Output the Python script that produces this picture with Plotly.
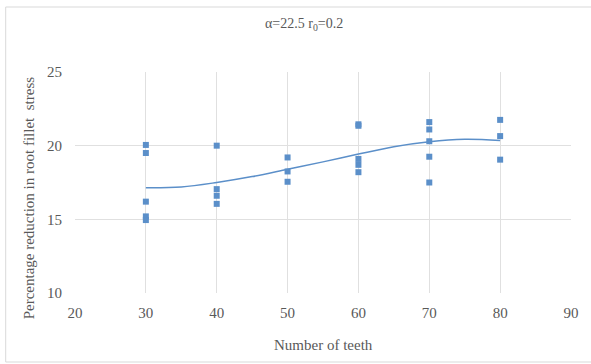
import plotly.graph_objects as go

# Data
teeth_30 = [20.05, 19.5, 16.2, 15.2, 14.95]
teeth_40 = [20.0, 17.05, 16.6, 16.05]
teeth_50 = [19.2, 18.25, 17.55]
teeth_60 = [21.45, 21.35, 19.1, 18.7, 18.2]
teeth_70 = [21.6, 21.1, 20.3, 19.25, 17.5]
teeth_80 = [21.75, 20.65, 19.05]

groups = {30: teeth_30, 40: teeth_40, 50: teeth_50, 60: teeth_60, 70: teeth_70, 80: teeth_80}

# Polynomial trendline as drawn in the reference (read values)
trend_x = [30, 35, 40, 45, 50, 55, 60, 65, 70, 75, 80]
trend_y = [17.15, 17.2, 17.5, 17.9, 18.4, 18.9, 19.43, 19.93, 20.27, 20.43, 20.35]

x_ticks = [20, 30, 40, 50, 60, 70, 80, 90]
y_ticks = [10, 15, 20, 25]

pts_x = []
pts_y = []
for k, vals in groups.items():
    pts_x += [k] * len(vals)
    pts_y += vals

blue = "#5B8FC9"
grey = "#595959"
font = "Liberation Serif"

fig = go.Figure()
fig.add_trace(go.Scatter(x=pts_x, y=pts_y, mode="markers",
                         marker=dict(symbol="square", size=6, color=blue),
                         showlegend=False, hoverinfo="x+y"))
fig.add_trace(go.Scatter(x=trend_x, y=trend_y, mode="lines",
                         line=dict(color=blue, width=1.5, shape="spline", smoothing=1.0),
                         showlegend=False, hoverinfo="skip"))

fig.update_layout(
    width=591, height=364,
    margin=dict(l=75, r=15, t=72, b=71),
    paper_bgcolor="white", plot_bgcolor="white",
    font=dict(family=font, color=grey, size=15),
    xaxis=dict(range=[20, 90], tickvals=x_ticks, showgrid=True, gridcolor="#E0E0E0",
               gridwidth=1, zeroline=False, showline=False, ticks="",
               ticklabelstandoff=9,
               tickfont=dict(size=15, color=grey, family=font), fixedrange=True),
    yaxis=dict(range=[10, 25], tickvals=y_ticks, showgrid=True, gridcolor="#E0E0E0",
               gridwidth=1, zeroline=False, showline=False, ticks="",
               ticklabelstandoff=12,
               tickfont=dict(size=15, color=grey, family=font), fixedrange=True),
    annotations=[
        dict(text="α=22.5 r<sub>0</sub>=0.2", xref="paper", yref="paper",
             x=0.462, y=1.215, xanchor="center", yanchor="middle", showarrow=False,
             font=dict(size=14, color=grey, family=font)),
        dict(text="Percentage reduction in root fillet  stress", xref="paper", yref="paper",
             x=-0.092, y=0.43, xanchor="center", yanchor="middle", textangle=-90,
             showarrow=False, font=dict(size=15, color=grey, family=font)),
        dict(text="Number of teeth", xref="paper", yref="paper",
             x=0.5, y=-0.235, xanchor="center", yanchor="middle", showarrow=False,
             font=dict(size=15, color=grey, family=font)),
    ],
    shapes=[
        dict(type="rect", xref="paper", yref="paper",
             x0=(5 - 75) / 501, x1=(600 - 75) / 501,
             y0=(293 - 362) / 221, y1=(293 - 7) / 221,
             line=dict(color="#D9D9D9", width=1), fillcolor="rgba(0,0,0,0)", layer="below"),
    ],
)

fig.write_html("out.html")
